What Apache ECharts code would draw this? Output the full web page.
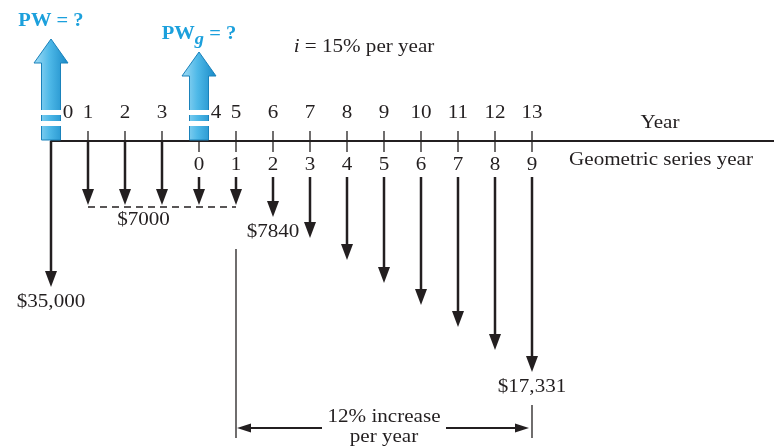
<!DOCTYPE html>
<html>
<head>
<meta charset="utf-8">
<script src="https://cdn.jsdelivr.net/npm/echarts@6/dist/echarts.min.js"></script>
<style>
  html, body { margin: 0; padding: 0; background: #fff; }
  #chart { width: 774px; height: 448px; }
</style>
</head>
<body>
<div id="chart"></div>
<script>
// cash flow data
var years = [0, 1, 2, 3, 4, 5, 6, 7, 8, 9, 10, 11, 12, 13];
var amounts = [35000, 7000, 7000, 7000, 7000, 7000, 7840, 8781, 9834, 11014, 12336, 13816, 15474, 17331];
// drawn arrow lengths (diagram is not to scale)
var arrowDepth = [146, 64, 64, 64, 64, 64, 76, 97, 119, 142, 164, 186, 209, 231];
var geoStartYear = 4;
var geoLabels = ['0', '1', '2', '3', '4', '5', '6', '7', '8', '9'];
var labelledYears = [0, 6, 13];
var uniformRange = [1, 5];
var pwYears = [0, 4];
var pwHeights = [102, 89];
var pwNames = ['PW', 'PWg'];
var increaseRange = [5, 13];

var FONT = '"Liberation Serif", "Times New Roman", serif';
var INK = '#231f20';
var BLUE = '#1ca0dc';
var WIDEN = 1.11; // the printed type is set a little wider

function money(v) {
  return '$' + (v >= 10000 ? v.toLocaleString('en-US') : String(v));
}

// serif text element, stretched a bit horizontally
function label(x, y, text, va, extra) {
  var el = { type: 'text', x: x, y: y, scaleX: WIDEN,
    style: { text: text, font: '19px ' + FONT, fill: INK, align: 'center', verticalAlign: va || 'middle' } };
  if (extra) { for (var k in extra) el.style[k] = extra[k]; }
  return el;
}

var chart = echarts.init(document.getElementById('chart'));

// 现金流箭头
var flowSeries = {
  type: 'custom',
  silent: true,
  data: years.map(function (y, i) { return [y, arrowDepth[i], amounts[i]]; }),
  encode: { x: 0, y: 1 },
  renderItem: function (params, api) {
    var yr = api.value(0), d = api.value(1);
    var start = yr >= geoStartYear ? 36 : 0;
    var p0 = api.coord([yr, start]);
    var p1 = api.coord([yr, d]);
    var kids = [
      { type: 'line', shape: { x1: p0[0], y1: p0[1], x2: p1[0], y2: p1[1] - 12 },
        style: { stroke: INK, lineWidth: 2.5 } },
      { type: 'polygon', shape: { points: [[p1[0] - 6, p1[1] - 16], [p1[0] + 6, p1[1] - 16], [p1[0], p1[1]]] },
        style: { fill: INK } }
    ];
    if (labelledYears.indexOf(yr) >= 0) {
      kids.push(label(p1[0], p1[1] + 6, money(api.value(2)), 'top'));
    }
    return { type: 'group', children: kids };
  }
};

// 刻度
var tickSeries = {
  type: 'custom',
  silent: true,
  data: years.filter(function (y) { return y >= 1; }).map(function (y) { return [y, 0]; }),
  encode: { x: 0, y: 1 },
  renderItem: function (params, api) {
    var yr = api.value(0);
    var a = api.coord([yr, -10]);
    var b = api.coord([yr, yr >= geoStartYear ? 11 : 0]);
    return { type: 'line', shape: { x1: a[0], y1: a[1], x2: b[0], y2: b[1] },
      style: { stroke: INK, lineWidth: 1.3 } };
  }
};

// 年份标签
var yearLabelSeries = {
  type: 'custom',
  silent: true,
  data: years.map(function (y) { return [y, -28]; }),
  encode: { x: 0, y: 1 },
  renderItem: function (params, api) {
    var yr = api.value(0);
    var p = api.coord([yr, api.value(1)]);
    var shift = pwYears.indexOf(yr) >= 0 ? 17 : 0;
    return label(p[0] + shift, p[1], String(yr));
  }
};

var geoLabelSeries = {
  type: 'custom',
  silent: true,
  data: geoLabels.map(function (t, i) { return [geoStartYear + i, 24]; }),
  encode: { x: 0, y: 1 },
  renderItem: function (params, api) {
    var p = api.coord([api.value(0), api.value(1)]);
    return label(p[0], p[1], geoLabels[params.dataIndex]);
  }
};

// 蓝色箭头 PW
var pwSeries = {
  type: 'custom',
  silent: true,
  z: 5,
  data: pwYears.map(function (y, i) { return [y, -pwHeights[i]]; }),
  encode: { x: 0, y: 1 },
  renderItem: function (params, api) {
    var yr = api.value(0);
    var tip = api.coord([yr, api.value(1)]);
    var base = api.coord([yr, 0]);
    var x = tip[0], hb = tip[1] + 24, bw = 9.5, hw = 17;
    var grad = { type: 'linear', x: 0, y: 0, x2: 1, y2: 0, colorStops: [
      { offset: 0, color: '#a6ddf5' }, { offset: 0.45, color: '#4fb9e8' }, { offset: 1, color: '#1788c6' }] };
    var s1 = api.coord([yr, -31]), s2 = api.coord([yr, -20]);
    var name = pwNames[params.dataIndex];
    var txt = name === 'PWg' ? '{b|PW}{s|g}{b| = ?}' : '{b|PW = ?}';
    return { type: 'group', children: [
      { type: 'polygon', shape: { points: [[x, tip[1]], [x + hw, hb], [x + bw, hb], [x + bw, base[1] - 1],
          [x - bw, base[1] - 1], [x - bw, hb], [x - hw, hb]] },
        style: { fill: grad, stroke: '#1a82bb', lineWidth: 1 } },
      { type: 'rect', shape: { x: x - bw - 1, y: s1[1], width: 2 * bw + 2, height: 5 }, style: { fill: '#fff' } },
      { type: 'rect', shape: { x: x - bw - 1, y: s2[1], width: 2 * bw + 2, height: 5 }, style: { fill: '#fff' } },
      { type: 'text', x: x, y: tip[1] - 18, scaleX: 1.08,
        style: { text: txt, align: 'center', verticalAlign: 'middle',
          rich: {
            b: { font: 'bold 19px ' + FONT, fill: BLUE },
            s: { font: 'bold italic 17px ' + FONT, fill: BLUE, padding: [12, 0, 0, 0] }
          } } }
    ] };
  }
};

// 均匀系列虚线与增长区间
var extraSeries = {
  type: 'custom',
  silent: true,
  data: [[uniformRange[0], 66]],
  encode: { x: 0, y: 1 },
  renderItem: function (params, api) {
    var a = api.coord([uniformRange[0], 66]);
    var b = api.coord([uniformRange[1], 66]);
    var lab = api.coord([(uniformRange[0] + geoStartYear) / 2, 70]);
    var l0 = api.coord([increaseRange[0], 108]);
    var l1 = api.coord([increaseRange[0], 297]);
    var r0 = api.coord([increaseRange[1], 264]);
    var r1 = api.coord([increaseRange[1], 297]);
    var h = api.coord([increaseRange[0], 287])[1];
    var mid = (l0[0] + r0[0]) / 2;
    var xl = l0[0] + 1, xr = r0[0] - 3;
    return { type: 'group', children: [
      { type: 'line', shape: { x1: a[0], y1: a[1], x2: b[0], y2: b[1] },
        style: { stroke: INK, lineWidth: 1.3, lineDash: [7, 5] } },
      label(lab[0], lab[1], money(amounts[uniformRange[0]]), 'top'),
      { type: 'line', shape: { x1: l0[0], y1: l0[1], x2: l1[0], y2: l1[1] }, style: { stroke: INK, lineWidth: 1.3 } },
      { type: 'line', shape: { x1: r0[0], y1: r0[1], x2: r1[0], y2: r1[1] }, style: { stroke: INK, lineWidth: 1.3 } },
      { type: 'line', shape: { x1: xl + 10, y1: h, x2: mid - 62, y2: h }, style: { stroke: INK, lineWidth: 2 } },
      { type: 'line', shape: { x1: mid + 62, y1: h, x2: xr - 10, y2: h }, style: { stroke: INK, lineWidth: 2 } },
      { type: 'polygon', shape: { points: [[xl, h], [xl + 14, h - 4.5], [xl + 14, h + 4.5]] }, style: { fill: INK } },
      { type: 'polygon', shape: { points: [[xr, h], [xr - 14, h - 4.5], [xr - 14, h + 4.5]] }, style: { fill: INK } },
      label(mid, h - 11, '12% increase'),
      label(mid, h + 9, 'per year')
    ] };
  }
};

chart.setOption({
  animation: false,
  backgroundColor: '#fff',
  grid: { left: 51, right: 0, top: 0, bottom: 0 },
  xAxis: {
    type: 'value', min: 0, max: 723 / 37,
    axisLine: { show: true, onZero: true, lineStyle: { color: INK, width: 2 } },
    axisTick: { show: false }, axisLabel: { show: false }, splitLine: { show: false }
  },
  yAxis: { type: 'value', min: -141, max: 307, inverse: true, show: false, splitLine: { show: false } },
  graphic: [
    label(364, 47, '{i|i} = 15% per year', 'middle', { rich: { i: { font: 'italic 19px ' + FONT, fill: INK } } }),
    label(660, 123, 'Year'),
    label(661, 160, 'Geometric series year')
  ],
  series: [tickSeries, flowSeries, yearLabelSeries, geoLabelSeries, extraSeries, pwSeries]
});
</script>
</body>
</html>
